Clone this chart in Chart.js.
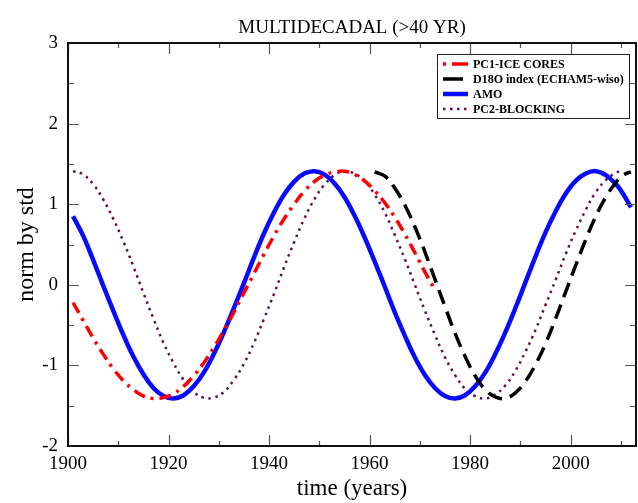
<!DOCTYPE html>
<html>
<head>
<meta charset="utf-8">
<script src="https://cdn.jsdelivr.net/npm/chart.js@4.4.1/dist/chart.umd.min.js"></script>
<style>
  html, body { margin: 0; padding: 0; background: #fff; }
  #wrap { width: 638px; height: 503px; }
</style>
</head>
<body>
<div id="wrap"><canvas id="chart" width="638" height="503"></canvas></div>
<script>
// sample years (two-year steps, a few extra at the end)
const years = [
  1901, 1903, 1905, 1907, 1909, 1911, 1913, 1915, 1917, 1919,
  1921, 1923, 1925, 1927, 1929, 1931, 1933, 1935, 1937, 1939,
  1941, 1943, 1945, 1947, 1949, 1951, 1953, 1955, 1957, 1959,
  1961, 1963, 1965, 1967, 1969, 1971, 1973, 1975, 1977, 1979,
  1981, 1983, 1985, 1987, 1989, 1991, 1993, 1995, 1997, 1999,
  2001, 2003, 2005, 2007, 2009, 2010, 2011, 2012
];

const iceCores = [
  -0.22, -0.44, -0.66, -0.86, -1.04, -1.19, -1.30, -1.38, -1.41, -1.40,
  -1.35, -1.26, -1.13, -0.97, -0.78, -0.57, -0.34, -0.10, 0.14, 0.38,
  0.61, 0.82, 1.00, 1.16, 1.28, 1.36, 1.40, 1.41, 1.37, 1.29,
  1.17, 1.02, 0.84, 0.63, 0.40, 0.16, -0.06, null, null, null,
  null, null, null, null, null, null, null, null, null, null,
  null, null, null, null, null, null, null, null
];

const d18o = [
  null, null, null, null, null, null, null, null, null, null,
  null, null, null, null, null, null, null, null, null, null,
  null, null, null, null, null, null, null, null, null, null,
  1.40, 1.35, 1.20, 0.99, 0.72, 0.41, 0.07, -0.27, -0.60, -0.89,
  -1.13, -1.30, -1.39, -1.41, -1.34, -1.20, -0.99, -0.73, -0.42, -0.09,
  0.24, 0.56, 0.85, 1.09, 1.27, 1.34, 1.38, 1.40
];

const amo = [
  0.85, 0.61, 0.31, -0.01, -0.32, -0.62, -0.89, -1.11, -1.28, -1.38,
  -1.41, -1.37, -1.26, -1.09, -0.86, -0.59, -0.29, 0.02, 0.34, 0.64,
  0.90, 1.12, 1.28, 1.38, 1.41, 1.37, 1.26, 1.09, 0.86, 0.59,
  0.29, -0.02, -0.34, -0.63, -0.90, -1.12, -1.28, -1.38, -1.41, -1.37,
  -1.26, -1.09, -0.86, -0.59, -0.29, 0.03, 0.35, 0.65, 0.91, 1.13,
  1.29, 1.38, 1.41, 1.36, 1.25, 1.17, 1.07, 0.96
];

const blocking = [
  1.41, 1.37, 1.25, 1.06, 0.82, 0.54, 0.23, -0.10, -0.42, -0.72,
  -0.97, -1.18, -1.33, -1.40, -1.40, -1.33, -1.18, -0.98, -0.72, -0.42,
  -0.11, 0.22, 0.53, 0.82, 1.06, 1.24, 1.36, 1.41, 1.38, 1.29,
  1.12, 0.90, 0.62, 0.32, 0.00, -0.32, -0.62, -0.90, -1.12, -1.29,
  -1.38, -1.41, -1.36, -1.25, -1.07, -0.83, -0.56, -0.25, 0.06, 0.38,
  0.67, 0.93, 1.15, 1.30, 1.39, 1.41, null, null
];

const xTicks = [1900, 1920, 1940, 1960, 1980, 2000];
const yTicks = [-2, -1, 0, 1, 2, 3];

const serif = '"Liberation Serif", "Times New Roman", serif';

function toPoints(vals) {
  return years.map((x, i) => ({ x: x, y: vals[i] }));
}

// frame, inward ticks on all four sides, title and legend box
const decorations = {
  id: 'decorations',
  afterDraw(chart) {
    const { ctx, chartArea: a, scales: { x, y } } = chart;
    ctx.save();

    ctx.strokeStyle = '#555';
    ctx.lineWidth = 1.2;
    ctx.beginPath();
    for (let v = 1900; v <= 2013; v += 10) {
      const px = Math.round(x.getPixelForValue(v)) + 0.5;
      const len = v % 20 === 0 ? 11 : 5;
      ctx.moveTo(px, a.bottom); ctx.lineTo(px, a.bottom - len);
      ctx.moveTo(px, a.top); ctx.lineTo(px, a.top + len);
    }
    for (let v = -2; v <= 3; v += 0.5) {
      const py = Math.round(y.getPixelForValue(v)) + 0.5;
      const len = Number.isInteger(v) ? 11 : 6;
      ctx.moveTo(a.left, py); ctx.lineTo(a.left + len, py);
      ctx.moveTo(a.right, py); ctx.lineTo(a.right - len, py);
    }
    ctx.stroke();

    ctx.strokeStyle = '#111';
    ctx.lineWidth = 2;
    ctx.strokeRect(a.left, a.top, a.right - a.left, a.bottom - a.top);

    // title
    ctx.fillStyle = '#000';
    ctx.font = '19px ' + serif;
    ctx.textAlign = 'center';
    ctx.textBaseline = 'alphabetic';
    ctx.fillText('MULTIDECADAL (>40 YR)', (a.left + a.right) / 2, 33);

    // legend
    const bx = 437, by = 54, bw = 192, bh = 64;
    ctx.fillStyle = '#fff';
    ctx.fillRect(bx, by, bw, bh);
    ctx.strokeStyle = '#222';
    ctx.lineWidth = 1;
    ctx.strokeRect(bx + 0.5, by + 0.5, bw, bh);
    ctx.font = 'bold 12px ' + serif;
    ctx.textAlign = 'left';
    ctx.textBaseline = 'middle';
    chart.data.datasets.forEach((ds, i) => {
      const ry = 64 + i * 15;
      ctx.beginPath();
      ctx.strokeStyle = ds.borderColor;
      ctx.lineWidth = ds.borderWidth;
      ctx.setLineDash(ds.legendDash);
      ctx.lineDashOffset = ds.legendOffset || 0;
      ctx.moveTo(443, ry);
      ctx.lineTo(468, ry);
      ctx.stroke();
      ctx.setLineDash([]);
      ctx.fillStyle = '#000';
      ctx.fillText(ds.label, 473, ry + 1);
    });

    ctx.restore();
  }
};

new Chart(document.getElementById('chart'), {
  type: 'line',
  data: {
    datasets: [
      {
        label: 'PC1-ICE CORES',
        data: toPoints(iceCores),
        borderColor: '#ff0000',
        borderWidth: 3.5,
        borderDash: [12, 6, 3, 6],
        legendDash: [3, 6, 16, 6],
        tension: 0.4
      },
      {
        label: 'D18O index (ECHAM5-wiso)',
        data: toPoints(d18o),
        borderColor: '#000000',
        borderWidth: 3.5,
        borderDash: [15, 8],
        legendDash: [20, 10],
        tension: 0.4
      },
      {
        label: 'AMO',
        data: toPoints(amo),
        borderColor: '#0a0aff',
        borderWidth: 4.5,
        borderDash: [],
        legendDash: [],
        tension: 0.4
      },
      {
        label: 'PC2-BLOCKING',
        data: toPoints(blocking),
        borderColor: '#601050',
        borderWidth: 2.5,
        borderDash: [2.5, 4.5],
        legendDash: [2.5, 4.5],
        tension: 0.4
      }
    ]
  },
  options: {
    responsive: false,
    animation: false,
    layout: { padding: { top: 43, right: 2, left: 0, bottom: 0 } },
    elements: { point: { radius: 0, hoverRadius: 0 } },
    plugins: {
      legend: { display: false },
      title: { display: false },
      tooltip: { enabled: false }
    },
    scales: {
      x: {
        type: 'linear',
        min: 1900,
        max: 2013,
        afterBuildTicks: (scale) => { scale.ticks = xTicks.map(v => ({ value: v })); },
        afterFit: (scale) => { scale.height = 57; },
        grid: { display: false, drawTicks: false },
        border: { display: false },
        ticks: {
          color: '#000',
          font: { family: serif, size: 19 },
          padding: 7,
          maxRotation: 0,
          autoSkip: false,
          callback: (v) => String(v)
        },
        title: {
          display: true,
          text: 'time (years)',
          color: '#000',
          font: { family: serif, size: 23 },
          padding: { top: 0, bottom: 0 }
        }
      },
      y: {
        min: -2,
        max: 3,
        afterBuildTicks: (scale) => { scale.ticks = yTicks.map(v => ({ value: v })); },
        afterFit: (scale) => { scale.width = 68; },
        grid: { display: false, drawTicks: false },
        border: { display: false },
        ticks: {
          color: '#000',
          font: { family: serif, size: 19 },
          padding: 10,
          callback: (v) => String(v)
        },
        title: {
          display: true,
          text: 'norm by std',
          color: '#000',
          font: { family: serif, size: 24 },
          padding: { top: 12, bottom: 0 }
        }
      }
    }
  },
  plugins: [decorations]
});
</script>
</body>
</html>
